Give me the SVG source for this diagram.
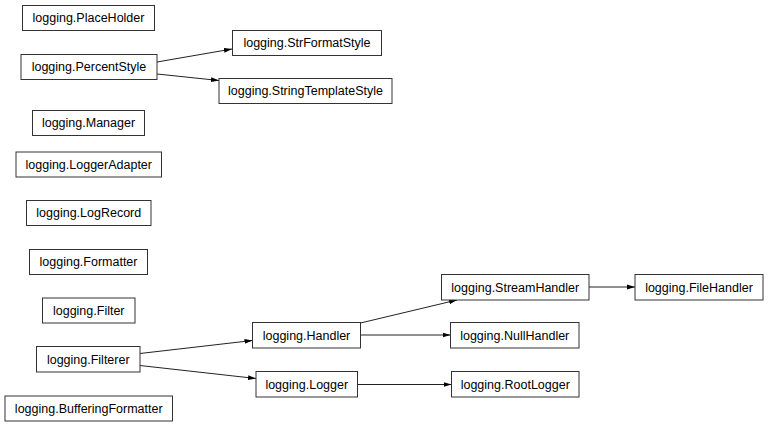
<svg xmlns="http://www.w3.org/2000/svg" width="768" height="427" viewBox="0 0 768 427">
<style>
.n rect{fill:#fff;stroke:#333;stroke-width:1}
.n text{font-family:"Liberation Sans",Arial,sans-serif;font-size:12.5px;fill:#000;text-anchor:middle}
.e line{stroke:#222;stroke-width:1;marker-end:url(#ah)}
</style>
<defs>
<marker id="ah" markerUnits="userSpaceOnUse" markerWidth="8" markerHeight="6" refX="8" refY="3" orient="auto">
<path d="M0,0.6 L8,3 L0,5.4 z" fill="#000"/>
</marker>
</defs>
<rect width="768" height="427" fill="#fff"/>
<g id="edges" class="e">
<line x1="157" y1="62" x2="232" y2="49"/>
<line x1="157" y1="74" x2="219" y2="80.5"/>
<line x1="140" y1="353.5" x2="252.5" y2="340.5"/>
<line x1="140" y1="365.5" x2="256" y2="378.5"/>
<line x1="360.5" y1="323" x2="457" y2="300"/>
<line x1="360.5" y1="335" x2="450.5" y2="335"/>
<line x1="357.5" y1="384.5" x2="451.5" y2="384.5"/>
<line x1="589" y1="287" x2="635" y2="287"/>
</g>
<g id="PlaceHolder" class="n"><rect x="22.5" y="5.5" width="132" height="25"/><text x="88.5" y="22.4">logging.PlaceHolder</text></g>
<g id="PercentStyle" class="n"><rect x="21" y="54.5" width="136" height="25"/><text x="89" y="71.4">logging.PercentStyle</text></g>
<g id="StrFormatStyle" class="n"><rect x="232.5" y="30.5" width="149" height="25"/><text x="307" y="47.4">logging.StrFormatStyle</text></g>
<g id="StringTemplateStyle" class="n"><rect x="219" y="78.5" width="173" height="25"/><text x="305.5" y="95.4">logging.StringTemplateStyle</text></g>
<g id="Manager" class="n"><rect x="32.5" y="110.5" width="112" height="25"/><text x="88.5" y="127.4">logging.Manager</text></g>
<g id="LoggerAdapter" class="n"><rect x="16" y="152" width="145.5" height="25"/><text x="88.75" y="168.9">logging.LoggerAdapter</text></g>
<g id="LogRecord" class="n"><rect x="26.5" y="200.5" width="124.5" height="25"/><text x="88.75" y="217.4">logging.LogRecord</text></g>
<g id="Formatter" class="n"><rect x="29.5" y="249.5" width="118" height="25"/><text x="88.5" y="266.4">logging.Formatter</text></g>
<g id="Filter" class="n"><rect x="42.5" y="298" width="92.5" height="25"/><text x="88.75" y="314.9">logging.Filter</text></g>
<g id="Filterer" class="n"><rect x="36.5" y="346.5" width="103.5" height="25.5"/><text x="88.25" y="363.6">logging.Filterer</text></g>
<g id="BufferingFormatter" class="n"><rect x="5" y="396" width="167.5" height="25"/><text x="88.75" y="412.9">logging.BufferingFormatter</text></g>
<g id="Handler" class="n"><rect x="252.5" y="322.5" width="108" height="25.5"/><text x="306.5" y="339.6">logging.Handler</text></g>
<g id="Logger" class="n"><rect x="256" y="371.5" width="101.5" height="25.5"/><text x="306.75" y="388.6">logging.Logger</text></g>
<g id="StreamHandler" class="n"><rect x="441.5" y="274.5" width="147.5" height="25.5"/><text x="515.25" y="291.6">logging.StreamHandler</text></g>
<g id="FileHandler" class="n"><rect x="635" y="274.5" width="128" height="25.5"/><text x="699" y="291.6">logging.FileHandler</text></g>
<g id="NullHandler" class="n"><rect x="450.5" y="322.5" width="128.5" height="25.5"/><text x="514.75" y="339.6">logging.NullHandler</text></g>
<g id="RootLogger" class="n"><rect x="451.5" y="371.5" width="127.5" height="25.5"/><text x="515.25" y="388.6">logging.RootLogger</text></g>
</svg>
